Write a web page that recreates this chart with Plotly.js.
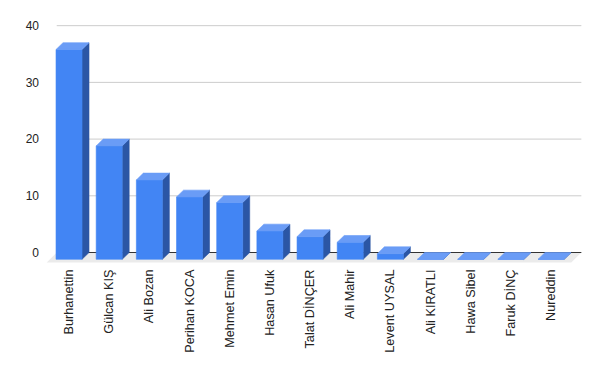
<!DOCTYPE html>
<html>
<head>
<meta charset="utf-8">
<script src="https://cdn.plot.ly/plotly-3.0.1.min.js"></script>
<style>html,body{margin:0;padding:0;background:#fff;}#chart{width:600px;height:371px;}</style>
</head>
<body>
<div id="chart"></div>
<script>
// ---- data ----
const names = ["Burhanettin", "Gülcan KIŞ", "Ali Bozan", "Perihan KOCA", "Mehmet Emin", "Hasan Ufuk", "Talat DİNÇER", "Ali Mahir", "Levent UYSAL", "Ali KIRATLI", "Hawa Sibel", "Faruk DİNÇ", "Nureddin"];
const values = [37, 20, 14, 11, 10, 5, 4, 3, 1, 0, 0, 0, 0];
const yTicks = [0, 10, 20, 30, 40];

// ---- 3D style (in axis units) ----
const barW = 0.647, dX = 0.174, dY = 1.2;
const floorDX = 0.25, floorDY = 1.76;
const backL = -0.48, backR = names.length - 1 + 0.58;

const idx = names.map((_, i) => i);
function polys(fn) {
  const xs = [], ys = [];
  idx.forEach(i => { const p = fn(i, values[i]); xs.push(...p[0], null); ys.push(...p[1], null); });
  return [xs, ys];
}
const frontFaces = polys((i, v) => {
  const l = i - barW / 2 - dX, r = i + barW / 2 - dX;
  return [[l, r, r, l, l], [-dY, -dY, v - dY, v - dY, -dY]];
});
const sideFaces = polys((i, v) => {
  const r = i + barW / 2 - dX, rb = i + barW / 2;
  return [[r, rb, rb, r, r], [-dY, 0, v, v - dY, -dY]];
});
const topFaces = polys((i, v) => {
  const l = i - barW / 2 - dX, r = i + barW / 2 - dX;
  return [[l, r, i + barW / 2, i - barW / 2, l], [v - dY, v - dY, v, v, v - dY]];
});

const gx = [], gy = [];
yTicks.filter(t => t !== 0).forEach(t => { gx.push(backL, backR, null); gy.push(t, t, null); });

function poly(xy, color) {
  return { x: xy[0], y: xy[1], type: 'scatter', mode: 'lines', fill: 'toself', fillcolor: color,
           line: { width: 0.6, color: color }, hoverinfo: 'skip', showlegend: false };
}

const traces = [
  { x: [backL, backR, backR - floorDX, backL - floorDX, backL], y: [0, 0, -floorDY, -floorDY, 0],
    type: 'scatter', mode: 'lines', fill: 'toself', fillcolor: '#ebebeb', line: { width: 0 }, hoverinfo: 'skip', showlegend: false },
  { x: gx, y: gy, type: 'scatter', mode: 'lines', line: { color: '#cccccc', width: 1 }, hoverinfo: 'skip', showlegend: false },
  { x: [backL, backR], y: [0, 0], type: 'scatter', mode: 'lines', line: { color: '#333333', width: 1 }, hoverinfo: 'skip', showlegend: false },
  poly(sideFaces, '#2b56a5'),
  poly(frontFaces, '#4285f4'),
  poly(topFaces, '#6a9cf6')
];

const layout = {
  width: 600, height: 371,
  margin: { l: 44, r: 16, t: 20, b: 108 },
  paper_bgcolor: '#ffffff', plot_bgcolor: '#ffffff',
  font: { family: 'Liberation Sans, Arial, sans-serif', size: 12, color: '#222222' },
  showlegend: false,
  xaxis: {
    range: [-0.797, 12.646], showgrid: false, zeroline: false, showline: false,
    tickmode: 'array', tickvals: idx.map(i => i - dX), ticktext: names,
    tickangle: -90, ticks: '', ticklabelstandoff: 3, tickfont: { size: 12.7 }, fixedrange: true
  },
  yaxis: {
    range: [-1.85, 41], showgrid: false, zeroline: false, showline: false,
    tickmode: 'array', tickvals: yTicks, ticktext: yTicks.map(String),
    ticks: '', ticklabelstandoff: 4, fixedrange: true
  }
};

Plotly.newPlot('chart', traces, layout, { displayModeBar: false, staticPlot: true });
</script>
</body>
</html>
